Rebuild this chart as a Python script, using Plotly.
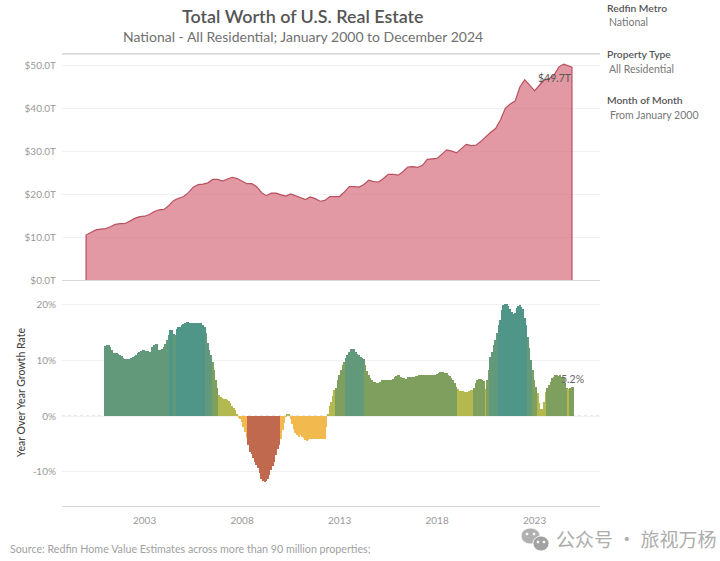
import plotly.graph_objects as go

WIDTH = 720
HEIGHT = 561

# total worth in $T, one value per quarter, Q1 2000 onwards (last one is Dec 2024)
worth = [
    10.5, 11.1, 11.7, 11.9, 12.0, 12.45, 13.0, 13.15, 13.2, 13.8, 14.4, 14.8,
    14.9, 15.3, 16.0, 16.4, 16.5, 17.4, 18.6, 19.1, 19.5, 20.4, 21.7, 22.3,
    22.4, 22.7, 23.5, 23.5, 23.1, 23.6, 24.0, 23.7, 23.0, 22.5, 22.5, 21.8,
    20.4, 19.7, 20.3, 20.3, 19.9, 19.6, 20.1, 19.7, 19.2, 18.8, 19.4, 19.0,
    18.4, 18.6, 19.5, 19.5, 19.5, 20.6, 21.8, 21.8, 21.7, 22.3, 23.3, 23.0,
    22.9, 23.7, 24.7, 24.7, 24.5, 25.3, 26.4, 26.5, 26.3, 26.8, 28.2, 28.3,
    28.4, 29.4, 30.4, 30.1, 29.7, 30.7, 31.7, 31.4, 31.5, 32.4, 33.5, 34.5,
    35.4, 37.4, 40.1, 41.1, 41.8, 45.1, 46.8, 45.5, 44.2, 45.5, 46.7, 47.1,
    47.9, 49.8, 50.4, 49.7,
]

# year over year growth in %, monthly from Jan 2001
growth = [
    12.6, 12.8, 12.8, 12.5, 11.8, 11.4, 11.3, 11.3, 11.2, 11.05, 10.8, 10.45,
    10.3, 10.2, 10.2, 10.3, 10.45, 10.6, 10.8, 11.0, 11.3, 11.6, 11.7, 11.8,
    11.8, 11.7, 11.65, 11.5, 11.5, 12.5, 12.7, 12.9, 13.0, 11.9, 11.8, 12.0,
    12.4, 13.0, 13.7, 14.6, 15.4, 15.4, 14.7, 14.6, 15.6, 16.0, 16.1, 16.3,
    16.5, 16.7, 16.9, 16.9, 16.8, 16.8, 16.8, 16.8, 16.8, 16.8, 16.8, 16.7,
    16.3, 16.0, 14.9, 13.1, 11.9, 11.0, 9.8, 8.3, 6.5, 5.0, 3.8, 3.5,
    3.3, 3.1, 3.0, 2.9, 2.7, 2.3, 1.8, 1.4, 1.0, 0.4, -0.2, -0.6,
    -1.0, -1.9, -2.9, -4.0, -5.3, -6.4, -6.9, -7.6, -8.3, -8.9, -9.4, -10.2,
    -11.3, -11.7, -11.9, -11.7, -11.3, -10.7, -9.8, -9.0, -8.2, -7.0, -6.0, -5.2,
    -4.2, -2.6, -1.2, -0.1, 0.4, 0.3, -0.6, -1.4, -2.4, -3.0, -3.4, -3.7,
    -3.4, -3.7, -3.9, -4.4, -4.5, -4.3, -4.1, -4.1, -4.2, -4.2, -4.2, -4.2,
    -4.2, -4.2, -4.2, -4.2, -2.0, 0.3, 1.8, 2.6, 3.6, 4.6, 5.0, 6.5,
    7.4, 8.3, 9.2, 9.8, 10.4, 11.0, 11.6, 12.0, 12.0, 12.0, 11.6, 11.2,
    11.0, 10.7, 10.5, 10.2, 9.2, 8.1, 7.4, 6.8, 6.4, 6.2, 6.1, 6.0,
    6.0, 6.2, 6.4, 6.4, 6.4, 6.4, 6.4, 6.4, 6.4, 6.7, 7.0, 7.2,
    7.3, 7.3, 7.1, 6.9, 6.8, 6.7, 7.0, 7.1, 7.1, 7.1, 7.1, 7.2,
    7.2, 7.3, 7.4, 7.4, 7.4, 7.3, 7.3, 7.3, 7.3, 7.3, 7.4, 7.4,
    7.6, 7.7, 7.9, 7.9, 7.9, 7.8, 7.7, 7.4, 7.2, 6.8, 6.5, 5.9,
    5.3, 4.8, 4.5, 4.5, 4.5, 4.4, 4.4, 4.4, 4.5, 4.6, 4.7, 5.0,
    5.9, 6.4, 6.6, 6.6, 6.4, 6.3, 4.9, 6.5, 8.3, 10.7, 11.6, 12.8,
    13.7, 14.9, 16.4, 17.3, 19.1, 20.0, 20.2, 20.2, 19.8, 19.2, 18.8, 18.4,
    18.5, 19.4, 19.8, 19.9, 19.7, 19.2, 17.6, 16.4, 14.3, 12.2, 10.1, 8.3,
    6.5, 5.3, 4.1, 2.3, 1.2, 1.2, 2.6, 4.4, 5.0, 5.6, 6.2, 6.8,
    7.1, 7.3, 7.3, 7.2, 7.3, 7.1, 6.8, 5.9, 5.0, 4.9, 5.1, 5.2,
    5.2,  # bars run one step past the area chart in the picture
]

worth_ticks = [0, 10, 20, 30, 40, 50]
worth_labels = ["$0.0T", "$10.0T", "$20.0T", "$30.0T", "$40.0T", "$50.0T"]
growth_ticks = [-10, 0, 10, 20]
growth_labels = ["-10%", "0%", "10%", "20%"]
year_ticks = ["2003-01-01", "2008-01-01", "2013-01-01", "2018-01-01", "2023-01-01"]
year_labels = ["2003", "2008", "2013", "2018", "2023"]

# stepped colour legend of the growth rate
step_limits = [-5, 0, 5, 10, 15]
step_colors = ["#c1694f", "#f2b94f", "#b3b84f", "#7f9f5f", "#62997a", "#4f9688"]

FONT = "Lato"
CJK = "Noto Sans CJK SC"
GRID = "#f1f1f1"
AXIS = "#d6d6d6"
TICK = "#999999"


def px(x):
    return x / WIDTH


def py(y):
    return 1 - y / HEIGHT


def step_color(v):
    for limit, color in zip(step_limits, step_colors):
        if v < limit:
            return color
    return step_colors[-1]


def note(x, y, text, size=10, color="#777777", anchor="left", weight=400, font=FONT, angle=0):
    fig.add_annotation(
        x=px(x), y=py(y), xref="paper", yref="paper", text=text,
        showarrow=False, xanchor=anchor, yanchor="middle", textangle=angle,
        xshift=0, yshift=0, borderpad=0,
        font=dict(size=size, color=color, family=font, weight=weight),
    )


def circle(x0, y0, x1, y1, color):
    fig.add_shape(
        type="circle", xref="paper", yref="paper",
        x0=px(x0), y0=py(y1), x1=px(x1), y1=py(y0),
        fillcolor=color, line=dict(color="white", width=0.8),
    )


quarters = [f"{2000 + i // 4}-{i % 4 * 3 + 1:02d}-01" for i in range(len(worth) - 1)] + ["2024-12-01"]
months = [f"{2001 + i // 12}-{i % 12 + 1:02d}-01" for i in range(len(growth))]

fig = go.Figure()

# closed outline so the sides and foot of the area get a stroke as well
fig.add_trace(go.Scatter(
    x=[quarters[0]] + quarters + [quarters[-1]],
    y=[0] + worth + [0],
    mode="lines",
    fill="tozeroy",
    fillcolor="rgba(215,110,125,0.7)",
    line=dict(color="#b8505f", width=1.2),
    hoverinfo="skip",
    xaxis="x",
    yaxis="y",
))
fig.add_trace(go.Bar(
    x=months,
    y=growth,
    marker=dict(color=[step_color(v) for v in growth], line_width=0),
    hoverinfo="skip",
    xaxis="x2",
    yaxis="y2",
))

x_range = ["1998-10-07", "2026-05-10"]
fig.update_layout(
    width=WIDTH,
    height=HEIGHT,
    autosize=False,
    margin=dict(l=0, r=0, t=0, b=0, autoexpand=False),
    paper_bgcolor="white",
    plot_bgcolor="white",
    showlegend=False,
    bargap=0,
    font=dict(family=FONT),
    xaxis=dict(
        domain=[px(62), px(600)], range=x_range, type="date", anchor="y",
        showgrid=False, showticklabels=False, ticks="",
        showline=True, mirror=True, linecolor=AXIS, linewidth=1, zeroline=False,
    ),
    yaxis=dict(
        domain=[py(280), py(54)], range=[0, 52.8], anchor="x",
        tickvals=worth_ticks, ticktext=worth_labels, ticks="", ticklabelstandoff=5,
        gridcolor=GRID, gridwidth=1, zeroline=False, showline=False,
        tickfont=dict(size=10, color=TICK),
    ),
    xaxis2=dict(
        domain=[px(62), px(600)], range=x_range, type="date", anchor="y2",
        tickmode="array", tickvals=year_ticks, ticktext=year_labels, ticks="", ticklabelstandoff=5,
        showgrid=False, showline=True, linecolor=AXIS, linewidth=1, zeroline=False,
        tickfont=dict(size=10, color=TICK),
    ),
    yaxis2=dict(
        domain=[py(506), py(281)], range=[-16.2, 24.3], anchor="x2",
        tickvals=growth_ticks, ticktext=growth_labels, ticks="", ticklabelstandoff=5,
        gridcolor=GRID, gridwidth=1, zeroline=False, showline=False,
        tickfont=dict(size=10, color=TICK),
    ),
)

# dotted zero line behind the bars
fig.add_shape(
    type="line", xref="x2 domain", yref="y2", x0=0, x1=1, y0=0, y1=0,
    line=dict(color="#d0d0d0", width=1, dash="dot"), layer="below",
)
# rule under the titles is a bit heavier than the axis lines
fig.add_shape(
    type="line", xref="x domain", yref="y domain", x0=0, x1=1, y0=1, y1=1,
    line=dict(color="#dddddd", width=1.6),
)

note(303, 16, "Total Worth of U.S. Real Estate", size=17.9, color="#555555", anchor="center", weight=600)
note(303, 37, "National - All Residential; January 2000 to December 2024", size=14, color="#707070", anchor="center")

note(573, 78, "$49.7T", size=10.5, color="#555555", anchor="right")
note(585, 379, "5.2%", size=10.5, color="#666666", anchor="right")

note(21, 393, "Year Over Year Growth Rate", size=10.5, color="#444444", anchor="center", angle=-90, weight=500)

note(606, 8, "Redfin Metro", size=10.3, color="#555555", weight=600)
note(608, 22, "National", size=10.5)
note(606, 54, "Property Type", size=10.3, color="#555555", weight=600)
note(608, 69, "All Residential", size=10.5)
note(606, 100, "Month of Month", size=10.3, color="#555555", weight=600)
note(609, 115, "From January 2000", size=10.5)

note(9, 548, "Source: Redfin Home Value Estimates across more than 90 million properties;", size=10.7, color="#a0a0a0")

note(555, 538, "公众号 · 旅视万杨", size=19, color="#adadad", font=CJK)

# wechat bubbles of the watermark, each with two eyes
circle(521, 528, 540, 544, "#b0b0b0")
circle(533, 536, 549, 551, "#a2a2a2")
for x in (526, 533):
    circle(x, 533, x + 2, 535, "white")
for x in (537, 543):
    circle(x, 541, x + 2, 543, "white")

# the page has a default body margin that would push the figure off the window
fig.write_html(
    "out.html",
    config={"displayModeBar": False},
    post_script="document.body.style.margin = '0';",
)
